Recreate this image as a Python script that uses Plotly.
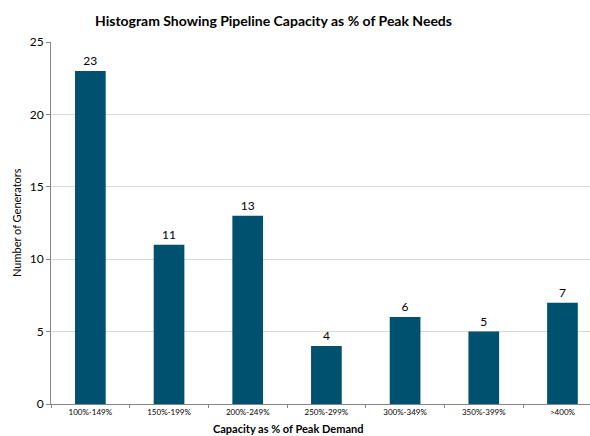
import plotly.graph_objects as go

categories = ["100%-149%", "150%-199%", "200%-249%", "250%-299%", "300%-349%", "350%-399%", ">400%"]
generators = [23, 11, 13, 4, 6, 5, 7]

bar_color = "#00506F"
font_family = "Lato, 'Open Sans', sans-serif"

fig = go.Figure(
    go.Bar(
        x=categories,
        y=generators,
        width=0.39,
        marker=dict(color=bar_color, line=dict(width=0)),
        text=[str(v) for v in generators],
        textposition="outside",
        textfont=dict(family=font_family, size=12, color="#000000"),
        cliponaxis=False,
    )
)

fig.update_layout(
    width=590,
    height=436,
    margin=dict(l=51, r=0, t=42, b=32),
    paper_bgcolor="white",
    plot_bgcolor="white",
    showlegend=False,
    bargap=0.6,
    font=dict(family=font_family, color="#000000"),
)

fig.update_xaxes(
    type="category",
    range=[-0.5, 6.35],
    showgrid=False,
    showline=True,
    linecolor="#868686",
    linewidth=1,
    ticks="outside",
    tickson="boundaries",
    ticklen=3,
    tickcolor="#868686",
    tickfont=dict(size=8, family=font_family),
)

fig.update_yaxes(
    range=[0, 25],
    dtick=5,
    showgrid=True,
    gridcolor="#D9D9D9",
    gridwidth=1,
    showline=True,
    linecolor="#868686",
    linewidth=1,
    ticks="outside",
    ticklen=4,
    tickcolor="#868686",
    tickfont=dict(size=12, family=font_family),
    zeroline=False,
)

fig.add_annotation(
    text="<b>Histogram Showing Pipeline Capacity as % of Peak Needs</b>",
    xref="paper", yref="paper",
    x=(273 - 51) / (590 - 51), y=1,
    yshift=22,
    xanchor="center", yanchor="middle",
    showarrow=False,
    font=dict(size=14, family=font_family),
)
fig.add_annotation(
    text="<b>Capacity as % of Peak Demand</b>",
    xref="paper", yref="paper",
    x=(288 - 51) / (590 - 51), y=0,
    yshift=-24,
    xanchor="center", yanchor="middle",
    showarrow=False,
    font=dict(size=11, family=font_family),
)
fig.add_annotation(
    text="Number of Generators",
    xref="paper", yref="paper",
    x=0, y=0.5,
    xshift=-35,
    xanchor="center", yanchor="middle",
    textangle=-90,
    showarrow=False,
    font=dict(size=11, family=font_family),
)

fig.write_html("out.html")
